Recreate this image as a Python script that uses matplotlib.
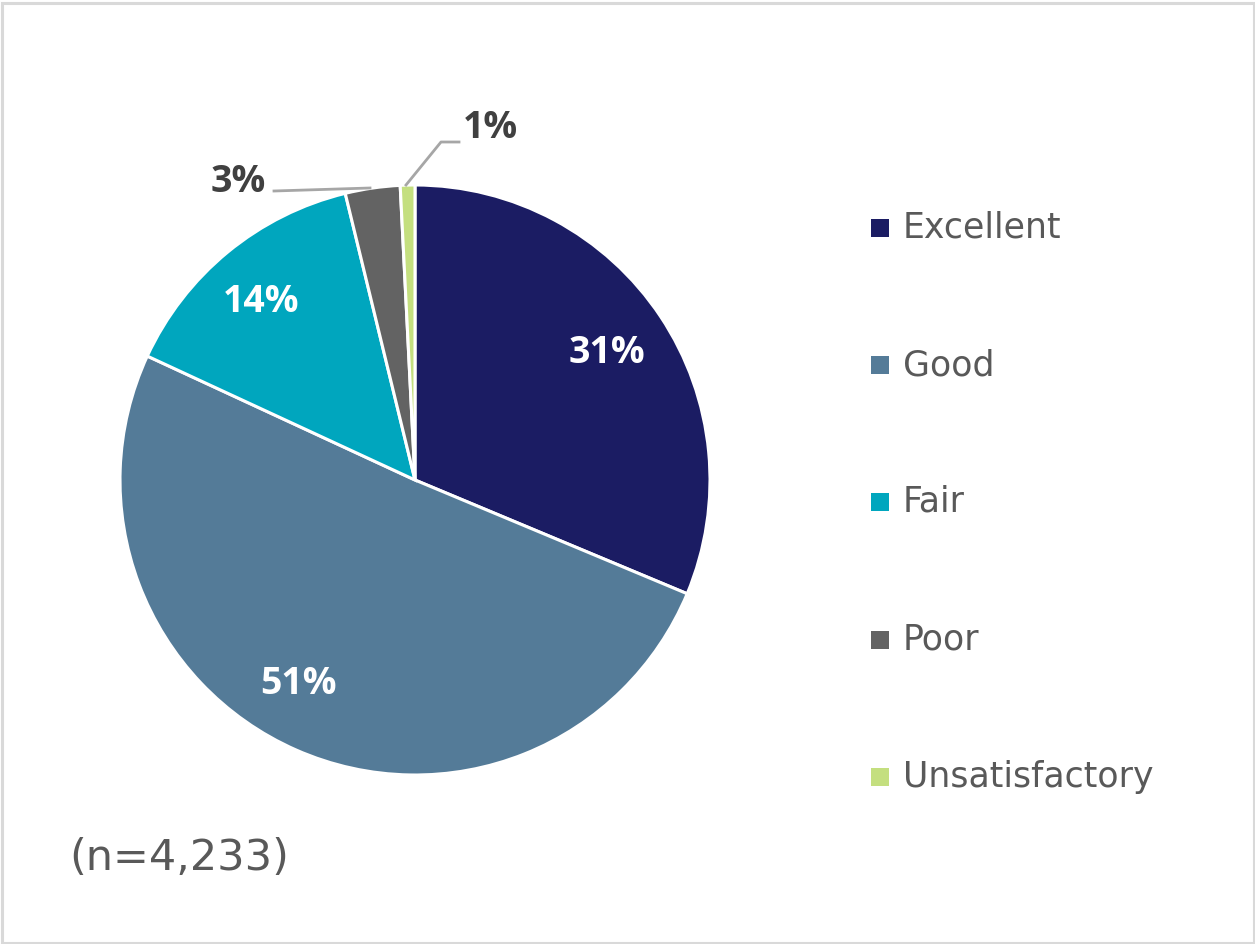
import matplotlib
matplotlib.use("Agg")
import matplotlib.pyplot as plt
from matplotlib.patches import Rectangle

categories = ["Excellent", "Good", "Fair", "Poor", "Unsatisfactory"]
values = [31.3, 50.6, 14.3, 3.0, 0.8]
labels = ["31%", "51%", "14%", "3%", "1%"]
colors = ["#1B1C63", "#547B98", "#00A6BE", "#636363", "#C4DF7F"]
note = "(n=4,233)"

W, H = 1255, 944
plt.rcParams['font.family'] = ['Open Sans', 'DejaVu Sans']
fig = plt.figure(figsize=(W / 100, H / 100), dpi=100)
ax = fig.add_axes([0, 0, 1, 1])

cx, cy, r = 415, H - 480, 295
wedges, _ = ax.pie(values, colors=colors, startangle=90, counterclock=False,
                   center=(cx, cy), radius=r,
                   wedgeprops=dict(edgecolor="white", linewidth=2.2))
ax.set_xlim(0, W)
ax.set_ylim(0, H)
ax.set_aspect('equal')
ax.axis('off')

# inside labels
inside_pos = {0: (607, 353), 1: (298, 684), 2: (261, 302)}
for i, (x, y) in inside_pos.items():
    ax.text(x, H - y, labels[i], color="white", fontsize=27, fontweight="bold",
            ha="center", va="center")

# outside labels with leader lines
ax.text(238, H - 182, labels[3], color="#404040", fontsize=27, fontweight="bold",
        ha="center", va="center")
ax.plot([274, 370], [H - 191, H - 188], color="#A6A6A6", lw=2)
ax.text(490, H - 128, labels[4], color="#404040", fontsize=27, fontweight="bold",
        ha="center", va="center")
ax.plot([406, 441, 459], [H - 185, H - 142, H - 142], color="#A6A6A6", lw=2)

# legend
ys = [228, 365, 502, 640, 777]
for i, cat in enumerate(categories):
    y = ys[i]
    ax.add_patch(Rectangle((871, H - y - 9), 18, 18, facecolor=colors[i], edgecolor="none"))
    ax.text(903, H - y, cat, color="#595959", fontsize=25, ha="left", va="center",
            family="DejaVu Sans")

ax.text(69, H - 858, note, color="#595959", fontsize=31, ha="left", va="center",
        family="DejaVu Sans")

# outer border
fig.patches.append(Rectangle((1.5 / W, 1.5 / H), (W - 3) / W, (H - 4.5) / H,
                             transform=fig.transFigure, fill=False,
                             edgecolor="#D9D9D9", linewidth=2.2))

fig.savefig("out.png", dpi=100, facecolor="white")
